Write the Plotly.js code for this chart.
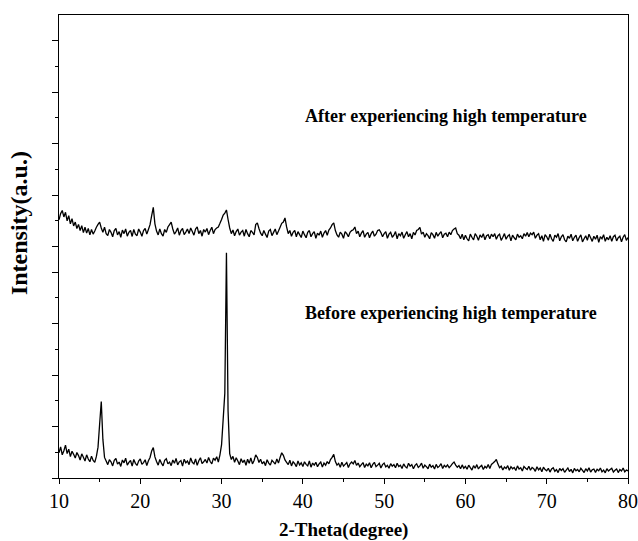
<!DOCTYPE html>
<html>
<head>
<meta charset="utf-8">
<script src="https://cdn.plot.ly/plotly-3.0.1.min.js"></script>
<style>html,body{margin:0;padding:0;background:#fff}#chart{width:638px;height:541px}</style>
</head>
<body>
<div id="chart"></div>
<script>
// 2-theta sampling grid of the scan (degrees)
const twoThetaStart = 10;
const twoThetaStep = 0.2;

// Intensity (a.u., offset-stacked), one value per 0.2 deg from 10 to 80
const beforeIntensity = [
  98,121,90,106,128,95,112,83,104,92,
  78,99,87,70,94,81,66,90,74,63,
  85,68,61,84,120,210,297,150,80,66,
  52,71,63,47,69,76,54,62,45,70,
  59,77,50,61,68,46,72,57,49,66,
  74,53,60,71,48,67,80,105,118,82,
  64,50,72,58,47,69,75,55,62,48,
  70,57,76,51,63,68,46,73,59,66,
  52,78,61,55,74,49,67,79,56,63,
  72,58,80,64,55,77,69,83,62,90,
  130,230,330,876,260,95,72,84,61,79,
  66,52,75,60,70,49,73,57,78,55,
  68,90,80,60,73,55,64,48,71,58,
  50,69,62,54,74,58,80,98,88,70,
  61,52,69,47,63,56,44,66,51,59,
  45,63,53,47,66,42,58,50,61,44,
  55,62,43,58,50,64,55,72,80,92,
  64,50,57,42,61,46,53,60,41,55,
  62,55,68,49,58,44,52,60,41,54,
  47,59,40,53,61,44,50,57,39,52,
  58,43,49,38,56,46,52,40,57,45,
  50,37,55,44,39,57,46,52,36,49,
  55,41,47,58,38,50,44,36,54,42,
  48,35,53,41,46,56,37,49,43,51,
  40,47,56,62,50,42,48,36,51,38,
  45,34,50,40,31,48,38,52,35,44,
  49,33,45,39,52,37,53,58,64,72,
  54,40,46,31,43,37,48,30,44,36,
  41,29,47,35,40,27,45,38,33,46,
  30,41,36,26,44,32,39,24,42,33,
  28,38,23,35,40,26,33,21,37,29,
  36,22,31,39,25,34,20,37,28,33,
  24,38,30,21,36,27,40,23,32,35,
  22,34,28,39,24,31,20,36,27,33,
  38,23,30,35,21,33,27,39,24,31,
  28
];

const afterIntensity = [
  1004,1028,1040,1015,1033,1000,1020,988,1008,980,
  995,970,986,962,981,954,975,952,970,945,
  966,948,960,975,986,995,972,955,975,950,
  942,966,955,938,962,970,945,958,936,964,
  950,968,940,955,963,939,966,948,942,968,
  956,940,962,970,948,966,985,1020,1052,988,
  960,945,968,950,940,966,955,976,985,995,
  968,948,958,972,944,962,970,946,956,968,
  950,972,958,944,968,976,950,962,940,966,
  956,970,946,962,975,950,966,972,976,990,
  1005,1022,1030,1042,1005,972,950,964,942,958,
  968,944,956,962,940,966,950,938,962,955,
  945,985,992,970,952,942,962,948,935,960,
  966,942,955,968,946,960,975,990,995,1011,
  976,950,962,940,955,963,938,958,946,935,
  960,946,934,955,962,938,950,958,932,952,
  944,960,936,952,962,944,964,972,985,992,
  962,945,936,956,948,932,958,950,938,955,
  962,965,976,950,960,938,952,962,936,948,
  955,934,950,960,940,948,962,965,954,938,
  950,958,932,948,955,936,944,958,930,950,
  942,956,932,946,958,938,950,930,955,945,
  962,966,974,948,956,936,950,942,930,954,
  946,932,955,940,950,958,934,948,952,938,
  956,946,962,968,972,950,944,930,948,926,
  944,930,922,948,936,926,950,940,924,945,
  935,950,926,942,946,930,948,938,950,928,
  942,948,924,936,950,928,940,946,922,944,
  934,926,948,936,942,930,950,940,954,938,
  952,946,956,932,944,950,926,942,920,946,
  938,924,948,930,920,944,936,950,922,938,
  946,926,918,940,932,948,922,936,944,920,
  935,945,918,930,942,924,948,934,920,940,
  928,944,916,938,930,946,920,936,926,942,
  920,938,944,922,934,940,918,936,946,924,
  935
];

const xTickVals = [10, 20, 30, 40, 50, 60, 70, 80];
const xMinorTicks = [15, 25, 35, 45, 55, 65, 75];
const yMajorTicks = [0, 200, 400, 600, 800, 900, 1100, 1300, 1500, 1700];
const yMinorTicks = [100, 300, 500, 700, 1000, 1200, 1400, 1600];
const labelAfter = 'After experiencing high temperature';
const labelBefore = 'Before experiencing high temperature';
const xTitle = '2-Theta(degree)';
const yTitle = 'Intensity(a.u.)';

const twoTheta = beforeIntensity.map((_, i) => +(twoThetaStart + i * twoThetaStep).toFixed(2));

const serif = '"Liberation Serif", "Times New Roman", serif';

const traces = [
  {x: twoTheta, y: beforeIntensity, type: 'scatter', mode: 'lines',
   line: {color: '#000', width: 1.3, simplify: false}, hoverinfo: 'skip', showlegend: false},
  {x: twoTheta, y: afterIntensity, type: 'scatter', mode: 'lines',
   line: {color: '#000', width: 1.3, simplify: false}, hoverinfo: 'skip', showlegend: false}
];

const layout = {
  width: 638, height: 541,
  margin: {l: 59, r: 10, t: 15, b: 63},
  paper_bgcolor: '#fff', plot_bgcolor: '#fff',
  showlegend: false,
  xaxis: {
    range: [10, 80], tickvals: xTickVals, ticktext: xTickVals.map(String),
    ticks: 'outside', ticklen: 5, tickwidth: 1, tickcolor: '#000',
    minor: {tickvals: xMinorTicks, ticks: 'outside', ticklen: 3, tickcolor: '#000', showgrid: false},
    showline: true, linecolor: '#000', linewidth: 1.3, mirror: true,
    showgrid: false, zeroline: false,
    tickfont: {family: serif, size: 20, color: '#000'}
  },
  yaxis: {
    range: [0, 1800], tickvals: yMajorTicks, showticklabels: false,
    ticks: 'outside', ticklen: 6, tickwidth: 1, tickcolor: '#000',
    minor: {tickvals: yMinorTicks, ticks: 'outside', ticklen: 3, tickcolor: '#000', showgrid: false},
    showline: true, linecolor: '#000', linewidth: 1.3, mirror: true,
    showgrid: false, zeroline: false
  },
  annotations: [
    {x: 40, y: 1408, xref: 'x', yref: 'y', xanchor: 'left', yanchor: 'middle', showarrow: false,
     text: '<b>' + labelAfter + '</b>', font: {family: serif, size: 18, color: '#000'}},
    {x: 40, y: 642, xref: 'x', yref: 'y', xanchor: 'left', yanchor: 'middle', showarrow: false,
     text: '<b>' + labelBefore + '</b>', font: {family: serif, size: 18, color: '#000'}},
    {x: 0.5, y: -0.112, xref: 'paper', yref: 'paper', xanchor: 'center', yanchor: 'middle', showarrow: false,
     text: '<b>' + xTitle + '</b>', font: {family: serif, size: 19, color: '#000'}},
    {x: -0.069, y: 0.55, xref: 'paper', yref: 'paper', xanchor: 'center', yanchor: 'middle', showarrow: false,
     textangle: -90, text: '<b>' + yTitle + '</b>', font: {family: serif, size: 24, color: '#000'}}
  ]
};

Plotly.newPlot('chart', traces, layout, {staticPlot: true, displayModeBar: false});
</script>
</body>
</html>
